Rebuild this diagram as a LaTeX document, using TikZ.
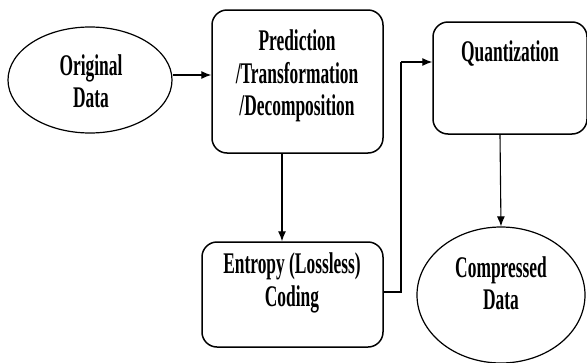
\documentclass[tikz,border=0pt]{standalone}
\usepackage{fontspec}
\setmainfont{Liberation Serif}[FakeStretch=0.58]
\usetikzlibrary{shapes.geometric,arrows.meta}
\begin{document}
\begin{tikzpicture}[x=1pt,y=-1pt,
  box/.style={draw, line width=1.5pt, rounded corners=15pt, inner sep=0pt},
  oval/.style={draw, ellipse, line width=1.2pt, inner sep=0pt},
  txt/.style={font=\fontsize{30}{32.5}\selectfont\bfseries, align=center, inner sep=0pt},
  arr/.style={line width=1.1pt, -{Latex[length=10pt,width=8pt]}},
  con/.style={line width=1.1pt}]
\useasboundingbox (0,0) rectangle (587,362);
\clip (0,0) rectangle (587,362);
\node[oval, minimum width=164pt, minimum height=106pt] (orig) at (90,80) {};
\node[txt] (origt) at (91,81) {Original\\Data};
\node[box, minimum width=171pt, minimum height=143pt] (pred) at (297.5,81.5) {};
\node[txt] (predt) at (297,76) {Prediction\\/Transformation\\/Decomposition};
\node[box, minimum width=154pt, minimum height=112pt] (quant) at (510,78) {};
\node[txt] (quantt) at (510,54) {Quantization};
\node[box, minimum width=181pt, minimum height=105pt] (ent) at (292.5,294.5) {};
\node[txt] (entt) at (292,283) {Entropy (Lossless)\\Coding};
\node[oval, minimum width=168pt, minimum height=136pt] (comp) at (501,295) {};
\node[txt] (compt) at (501,283) {Compressed\\Data};
\coordinate (c1) at (401,292);
\coordinate (c2) at (401,62);
\draw[arr] (orig.east |- 0,75) -- (pred.west |- 0,75);
\draw[arr] (pred.south -| 282,0) -- (ent.north -| 282,0);
\draw[con] (ent.east |- c1) -- (c1) -- (c2);
\draw[arr] (c2) -- (quant.west |- c2);
\draw[arr] (quant.south -| 500,0) -- (comp.north);
\end{tikzpicture}
\end{document}
